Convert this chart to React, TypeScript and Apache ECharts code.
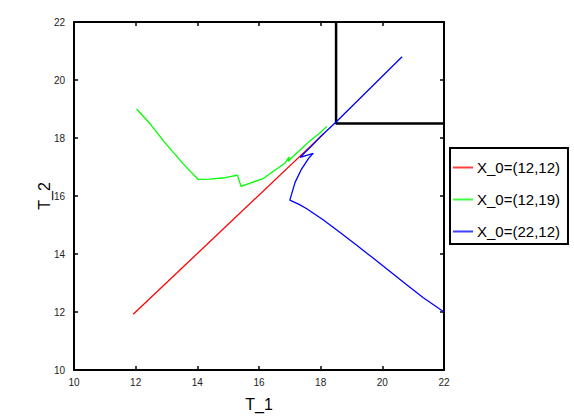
import React, { useEffect, useRef } from "react";
import * as echarts from "echarts";

const xTicks = [10, 12, 14, 16, 18, 20, 22];
const yTicks = [10, 12, 14, 16, 18, 20, 22];

const redName = "X_0=(12,12)";
const greenName = "X_0=(12,19)";
const blueName = "X_0=(22,12)";

const redPts: number[][] = [
  [11.92, 11.92],
  [18.1, 18.15],
];

const greenPts: number[][] = [
  [12.03, 19.0], [12.47, 18.49], [12.9, 17.9], [13.55, 17.1], [14.03, 16.57],
  [14.4, 16.58], [14.9, 16.63], [15.3, 16.72], [15.42, 16.33], [15.8, 16.48],
  [16.14, 16.6], [16.5, 16.88], [16.84, 17.13], [16.98, 17.35], [16.95, 17.2],
  [17.06, 17.32], [17.3, 17.55], [17.65, 17.9], [17.98, 18.18], [18.2, 18.4],
];

const bluePts: number[][] = [
  [22.0, 12.0], [21.33, 12.49], [20.79, 12.94], [20.25, 13.4], [19.71, 13.85],
  [19.17, 14.3], [18.63, 14.74], [18.09, 15.17], [17.55, 15.56], [17.3, 15.71],
  [17.0, 15.86], [17.17, 16.47], [17.38, 16.93], [17.63, 17.33], [17.76, 17.47],
  [17.33, 17.33], [17.49, 17.5], [17.76, 17.78], [17.7, 17.72], [18.0, 18.05],
  [18.5, 18.55], [20.64, 20.8],
];

const boxPts: number[][] = [
  [18.5, 22],
  [18.5, 18.5],
  [22, 18.5],
];

const RED = "#ff0000";
const GREEN = "#00ff00";
const BLUE = "#0000ff";

const FONT = "Liberation Sans, Arial, Helvetica, sans-serif";

export default function App() {
  const ref = useRef<HTMLDivElement>(null);
  useEffect(() => {
    if (!ref.current) return;
    const chart = echarts.init(ref.current, null, { renderer: "svg" });
    const axisCommon = {
      type: "value" as const,
      min: 10,
      max: 22,
      interval: 2,
      splitLine: { show: false },
      axisLine: { show: true, onZero: false, lineStyle: { color: "#000", width: 2 } },
      axisTick: { show: true, inside: true, length: 4, lineStyle: { color: "#000", width: 1.5 } },
    };
    const legendItem = (name: string, color: string) => ({
      name,
      icon: "rect",
      itemStyle: { color, borderColor: color, borderWidth: 0, opacity: 0.75 },
      lineStyle: { color, width: 0, opacity: 0 },
    });
    chart.setOption({
      animation: false,
      backgroundColor: "#fff",
      textStyle: { fontFamily: FONT },
      grid: { left: 74, right: 130, top: 22, bottom: 45, containLabel: false },
      legend: {
        orient: "vertical",
        left: 450,
        top: 148,
        data: [legendItem(redName, RED), legendItem(greenName, GREEN), legendItem(blueName, BLUE)],
        borderColor: "#000",
        borderWidth: 2,
        backgroundColor: "#fff",
        padding: [12, 8, 5, 3],
        itemWidth: 20,
        itemHeight: 2,
        itemGap: 17,
        textStyle: { fontSize: 15, fontFamily: FONT, color: "#000", padding: [0, 0, 0, -1] },
      },
      xAxis: [
        {
          ...axisCommon,
          position: "bottom",
          name: "T_1",
          nameLocation: "middle",
          nameGap: 26,
          nameMoveOverlap: false,
          nameTextStyle: { fontSize: 16, color: "#000", fontFamily: FONT },
          axisLabel: { fontSize: 10, color: "#222", margin: 7, fontFamily: FONT },
          data: xTicks,
        },
        {
          ...axisCommon,
          position: "top",
          axisLabel: { show: false },
        },
      ],
      yAxis: [
        {
          ...axisCommon,
          position: "left",
          name: "T_2",
          nameLocation: "middle",
          nameGap: 22,
          nameMoveOverlap: false,
          nameTextStyle: { fontSize: 16, color: "#000", fontFamily: FONT },
          axisLabel: { fontSize: 10, color: "#222", margin: 9, fontFamily: FONT },
          data: yTicks,
        },
        {
          ...axisCommon,
          position: "right",
          axisLabel: { show: false },
        },
      ],
      series: [
        {
          name: redName,
          type: "line",
          data: redPts,
          symbol: "none",
          lineStyle: { color: RED, width: 1.3 },
          itemStyle: { color: RED },
        },
        {
          name: greenName,
          type: "line",
          data: greenPts,
          symbol: "none",
          lineStyle: { color: GREEN, width: 1.3 },
          itemStyle: { color: GREEN },
        },
        {
          name: blueName,
          type: "line",
          data: bluePts,
          symbol: "none",
          lineStyle: { color: BLUE, width: 1.3 },
          itemStyle: { color: BLUE },
        },
        {
          name: "box",
          type: "line",
          data: boxPts,
          symbol: "none",
          lineStyle: { color: "#000", width: 2.5 },
          z: 1,
        },
      ],
    });
    return () => chart.dispose();
  }, []);
  return <div ref={ref} style={{ width: 574, height: 417, position: "absolute", left: 0, top: 0 }} />;
}
